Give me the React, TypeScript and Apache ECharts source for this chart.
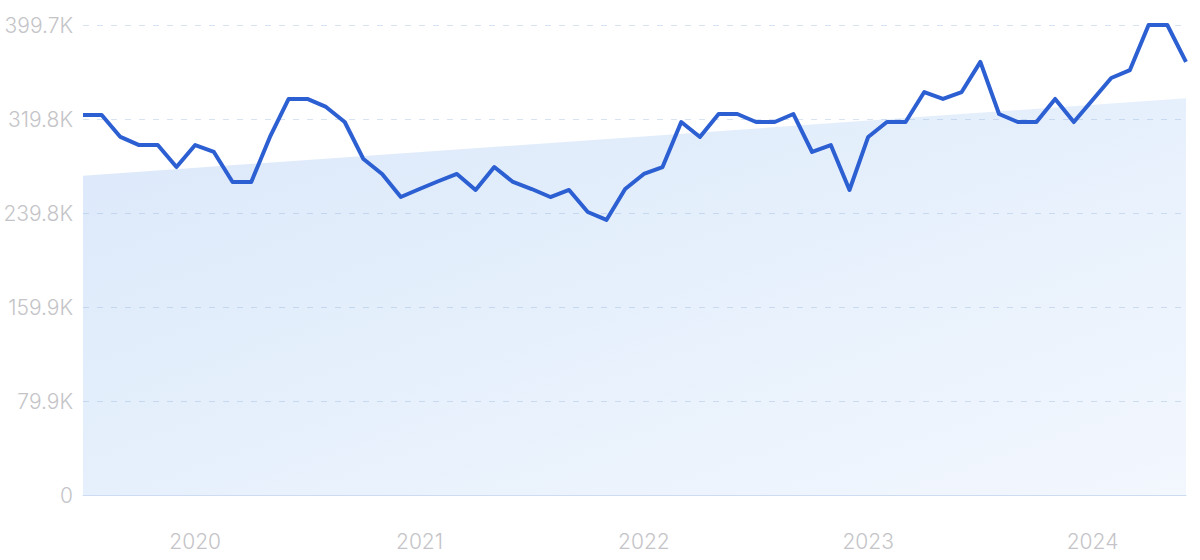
import React, { useEffect, useRef } from "react";
import * as echarts from "echarts";

// Monthly data, Jul 2019 – Jun 2024
const months: string[] = [];
const startYear = 2019;
for (let i = 0; i < 60; i++) {
  const m = (6 + i) % 12;
  const y = startYear + Math.floor((6 + i) / 12);
  months.push(`${y}-${String(m + 1).padStart(2, "0")}`);
}

const searchVolume = [
  323200, 323200, 304500, 297600, 297600, 278900, 297600, 291700, 266200, 266200,
  304500, 336800, 336800, 330000, 317200, 285700, 273000, 253400, 260200, 266800,
  273000, 259400, 278900, 266200, 260200, 253400, 259400, 240700, 233900, 260200,
  273000, 278900, 317200, 304500, 324000, 324000, 317200, 317200, 324000, 291700,
  297600, 259400, 304500, 317200, 317200, 342700, 336800, 342700, 368300, 324000,
  317200, 317200, 336800, 317200, 335900, 354600, 361400, 399700, 399700, 368300,
];

// Trend line endpoints (first and last month)
const trendValues = [271500, 337400];

const yTicks = [0, 79940, 159880, 239820, 319760, 399700];

export default function App() {
  const ref = useRef<HTMLDivElement>(null);
  useEffect(() => {
    if (!ref.current) return;
    const chart = echarts.init(ref.current, undefined, { renderer: "svg" });
    const font = "Inter, 'Noto Sans', sans-serif";
    chart.setOption({
      animation: false,
      grid: { left: 83, right: 14, top: 25, bottom: 65 },
      xAxis: {
        type: "category",
        data: months,
        boundaryGap: false,
        z: 3,
        axisLine: { show: true, lineStyle: { color: "#cddcf2", width: 1 } },
        axisTick: { show: false },
        splitLine: { show: false },
        axisLabel: {
          interval: 0,
          color: "#c4c4c8",
          fontSize: 21,
          fontWeight: 300,
          fontFamily: font,
          margin: 36,
          formatter: (v: string) => (v.endsWith("-01") ? v.slice(0, 4) : ""),
        },
      },
      yAxis: {
        type: "value",
        min: yTicks[0],
        max: yTicks[yTicks.length - 1],
        interval: yTicks[1],
        z: 3,
        axisLine: { show: false },
        axisTick: { show: false },
        splitLine: { lineStyle: { color: "rgba(150,178,222,0.38)", type: [6, 8], width: 1 } },
        axisLabel: {
          color: "#c4c4c8",
          fontSize: 21,
          fontWeight: 300,
          fontFamily: font,
          margin: 10,
          formatter: (v: number) => (v === 0 ? "0" : (v / 1000).toFixed(1) + "K"),
        },
      },
      series: [
        {
          type: "line",
          data: [
            [0, trendValues[0]],
            [months.length - 1, trendValues[1]],
          ],
          symbol: "none",
          lineStyle: { width: 0 },
          silent: true,
          z: 1,
          areaStyle: {
            opacity: 1,
            color: new echarts.graphic.LinearGradient(0, 0, 1, 1, [
              { offset: 0, color: "#dbe8fa" },
              { offset: 0.5, color: "#e6f0fc" },
              { offset: 1, color: "#f3f7fe" },
            ]),
          },
        },
        {
          type: "line",
          data: searchVolume,
          symbol: "none",
          z: 5,
          lineStyle: { color: "#2c5fd2", width: 4, join: "round" },
        },
      ],
    });
    return () => chart.dispose();
  }, []);
  return (
    <div
      ref={ref}
      style={{ position: "fixed", left: 0, top: 0, width: 1200, height: 560, background: "#fff" }}
    />
  );
}
